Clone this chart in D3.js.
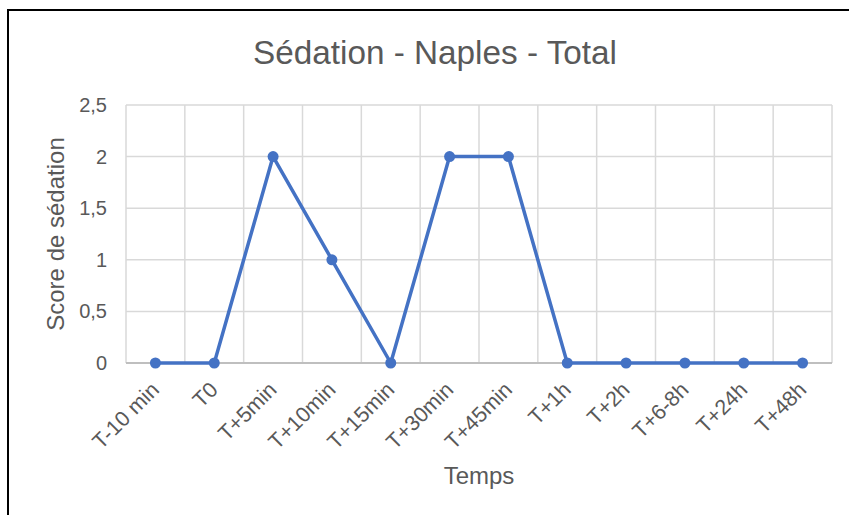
<!DOCTYPE html>
<html><head><meta charset="utf-8">
<script src="https://cdn.jsdelivr.net/npm/d3@7"></script>
<style>body{margin:0;background:#fff}svg{display:block}</style>
</head><body>
<script>
const categories = ["T-10 min","T0","T+5min","T+10min","T+15min","T+30min","T+45min","T+1h","T+2h","T+6-8h","T+24h","T+48h"];
const values = [0,0,2,1,0,2,2,0,0,0,0,0];
const yTicks = [0,0.5,1,1.5,2,2.5];
const title = "Sédation - Naples - Total";
const xTitle = "Temps";
const yTitle = "Score de sédation";

const W = 849, H = 515;
const m = {left:126, right:849-832, top:105, bottom:515-363};
const font = "'Liberation Sans', Arial, sans-serif";
const svg = d3.select("body").append("svg").attr("width", W).attr("height", H);
svg.append("rect").attr("width", W).attr("height", H).attr("fill", "#fff");
svg.append("rect").attr("x", 8).attr("y", 10).attr("width", W + 20).attr("height", H + 20)
  .attr("fill", "none").attr("stroke", "#000").attr("stroke-width", 2);

const x = d3.scaleBand().domain(categories).range([m.left, W - m.right]);
const y = d3.scaleLinear().domain([0, 2.5]).range([H - m.bottom, m.top]);

// horizontal gridlines
svg.append("g").selectAll("line").data(yTicks.filter(d => d > 0)).join("line")
  .attr("x1", m.left).attr("x2", W - m.right)
  .attr("y1", d => y(d)).attr("y2", d => y(d))
  .attr("stroke", "#d9d9d9").attr("stroke-width", 1.5);
// vertical gridlines at category boundaries
const bounds = categories.map(c => x(c)).concat([W - m.right]);
svg.append("g").selectAll("line").data(bounds).join("line")
  .attr("x1", d => d).attr("x2", d => d)
  .attr("y1", y(2.5)).attr("y2", y(0))
  .attr("stroke", "#d9d9d9").attr("stroke-width", 1.5);
// x axis line
svg.append("line").attr("x1", m.left).attr("x2", W - m.right)
  .attr("y1", y(0)).attr("y2", y(0)).attr("stroke", "#bfbfbf").attr("stroke-width", 2);

// y tick labels
const fmt = d => String(d).replace(".", ",");
svg.append("g").selectAll("text").data(yTicks).join("text")
  .attr("x", 107).attr("y", d => y(d)).attr("dy", "0.35em")
  .attr("text-anchor", "end").attr("font-family", font).attr("font-size", 20)
  .attr("fill", "#595959").text(fmt);

// x tick labels rotated
svg.append("g").selectAll("text").data(categories).join("text")
  .attr("transform", d => `translate(${x(d) + x.bandwidth()/2 + 5},${y(0) + 28}) rotate(-45)`)
  .attr("text-anchor", "end").attr("font-family", font).attr("font-size", 21.5)
  .attr("fill", "#595959").text(d => d);

// line
const line = d3.line().x((d, i) => x(categories[i]) + x.bandwidth()/2).y(d => y(d));
svg.append("path").datum(values).attr("d", line).attr("fill", "none")
  .attr("stroke", "#4472c4").attr("stroke-width", 3.5).attr("stroke-linejoin", "round");
svg.append("g").selectAll("circle").data(values).join("circle")
  .attr("cx", (d, i) => x(categories[i]) + x.bandwidth()/2).attr("cy", d => y(d))
  .attr("r", 5.5).attr("fill", "#4472c4");

// titles
svg.append("text").attr("x", 435).attr("y", 64).attr("text-anchor", "middle")
  .attr("font-family", font).attr("font-size", 33.3).attr("fill", "#595959").text(title);
svg.append("text").attr("x", (m.left + W - m.right)/2).attr("y", 484).attr("text-anchor", "middle")
  .attr("font-family", font).attr("font-size", 24).attr("fill", "#595959").text(xTitle);
svg.append("text").attr("transform", `translate(64,${(y(0)+y(2.5))/2}) rotate(-90)`)
  .attr("text-anchor", "middle").attr("font-family", font).attr("font-size", 24)
  .attr("fill", "#595959").text(yTitle);
</script>
</body></html>
